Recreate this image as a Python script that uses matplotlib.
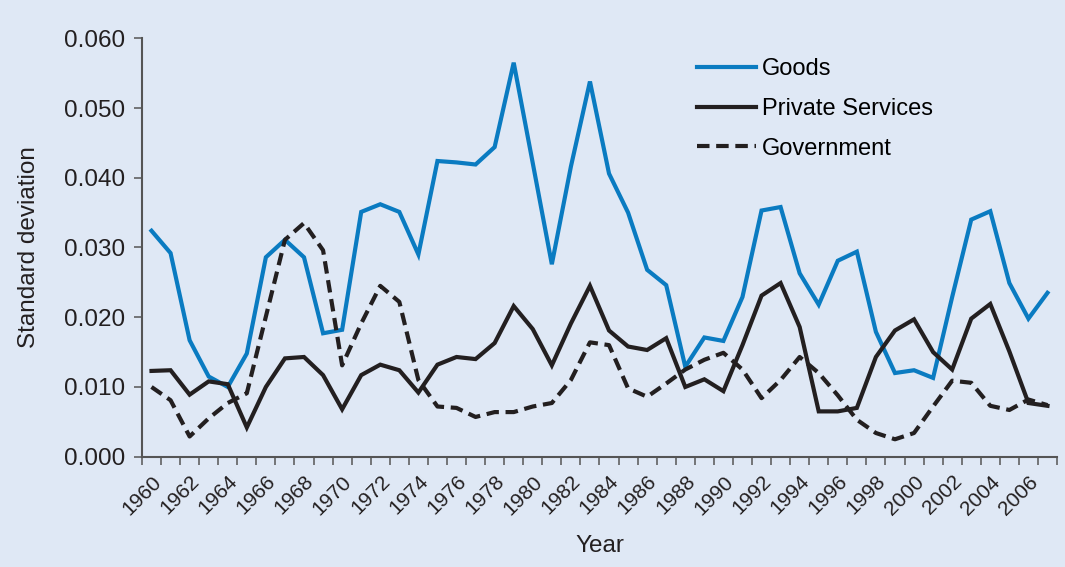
import matplotlib.pyplot as plt
import numpy as np

years = list(range(1960, 2008))
goods = [0.0324, 0.0292, 0.0167, 0.0115, 0.0100, 0.0148, 0.0286, 0.0311, 0.0286, 0.0177,
         0.0182, 0.0351, 0.0362, 0.0351, 0.0290, 0.0424, 0.0422, 0.0419, 0.0444, 0.0565,
         0.0421, 0.0276, 0.0416, 0.0538, 0.0406, 0.0350, 0.0268, 0.0246, 0.0129, 0.0171,
         0.0166, 0.0229, 0.0353, 0.0358, 0.0263, 0.0218, 0.0281, 0.0294, 0.0179, 0.0120,
         0.0124, 0.0113, 0.0229, 0.0340, 0.0352, 0.0249, 0.0198, 0.0235]
private = [0.0123, 0.0124, 0.0089, 0.0108, 0.0104, 0.0042, 0.0100, 0.0141, 0.0143, 0.0117,
           0.0068, 0.0117, 0.0132, 0.0124, 0.0092, 0.0132, 0.0143, 0.0140, 0.0163, 0.0216,
           0.0183, 0.0131, 0.0191, 0.0245, 0.0181, 0.0158, 0.0153, 0.0170, 0.0100, 0.0111,
           0.0094, 0.0160, 0.0231, 0.0249, 0.0186, 0.0065, 0.0065, 0.0070, 0.0143, 0.0181,
           0.0197, 0.0150, 0.0125, 0.0198, 0.0219, 0.0151, 0.0077, 0.0073]
government = [0.0100, 0.0081, 0.0029, 0.0055, 0.0077, 0.0091, 0.0201, 0.0311, 0.0335, 0.0296,
              0.0131, 0.0191, 0.0245, 0.0222, 0.0110, 0.0072, 0.0070, 0.0057, 0.0064, 0.0064,
              0.0072, 0.0077, 0.0110, 0.0164, 0.0160, 0.0098, 0.0086, 0.0105, 0.0125, 0.0139,
              0.0149, 0.0125, 0.0084, 0.0110, 0.0143, 0.0120, 0.0088, 0.0053, 0.0034, 0.0025,
              0.0034, 0.0072, 0.0109, 0.0106, 0.0073, 0.0067, 0.0082, 0.0074]

bg = '#dfe8f5'
axcol = '#555555'
txt = '#231f20'
plt.rcParams['font.family'] = ['Liberation Sans', 'DejaVu Sans']

fig = plt.figure(figsize=(10.65, 5.67), dpi=100, facecolor=bg)
ax = fig.add_axes([0.1333, 0.1945, 0.8592, 0.738])
ax.set_facecolor(bg)

x = np.arange(len(years))
ax.plot(x, goods, color='#0a7bc1', lw=3.0, label='Goods', solid_joinstyle='miter')
ax.plot(x, private, color=txt, lw=3.0, label='Private Services', solid_joinstyle='miter')
ax.plot(x, government, color=txt, lw=3.0, label='Government', dashes=(3.0, 1.6))

ax.set_xlim(-0.5, len(years) - 0.5)
ax.set_ylim(0, 0.06)
ax.set_yticks(np.arange(0, 0.0601, 0.01))
ax.set_yticklabels(['%.3f' % v for v in np.arange(0, 0.0601, 0.01)])

# year labels every other year, tick marks between the categories
ax.set_xticks(x[::2])
ax.set_xticklabels([str(y) for y in years[::2]], rotation=45, ha='right', va='top',
                   rotation_mode='anchor')
ax.set_xticks(np.arange(-0.5, len(years), 1), minor=True)
ax.tick_params(axis='x', which='major', length=0, pad=11, labelsize=15, colors=txt)
ax.tick_params(axis='x', which='minor', length=6, width=1.1, color=axcol)
ax.tick_params(axis='y', length=6, width=1.1, color=axcol, labelsize=17.5,
               labelcolor=txt, pad=6)

for s in ['top', 'right']:
    ax.spines[s].set_visible(False)
for s in ['left', 'bottom']:
    ax.spines[s].set_color(axcol)
    ax.spines[s].set_linewidth(1.5)

ax.set_ylabel('Standard deviation', fontsize=17.5, color=txt, labelpad=17)
ax.set_xlabel('Year', fontsize=17.5, color=txt, labelpad=12)

ax.legend(loc='upper left', bbox_to_anchor=(0.6545, 0.898), bbox_transform=fig.transFigure,
          frameon=False, fontsize=17, handlelength=2.5, handletextpad=0.25,
          labelspacing=0.76, borderpad=0, borderaxespad=0)

fig.savefig('out.png', dpi=100, facecolor=bg)
